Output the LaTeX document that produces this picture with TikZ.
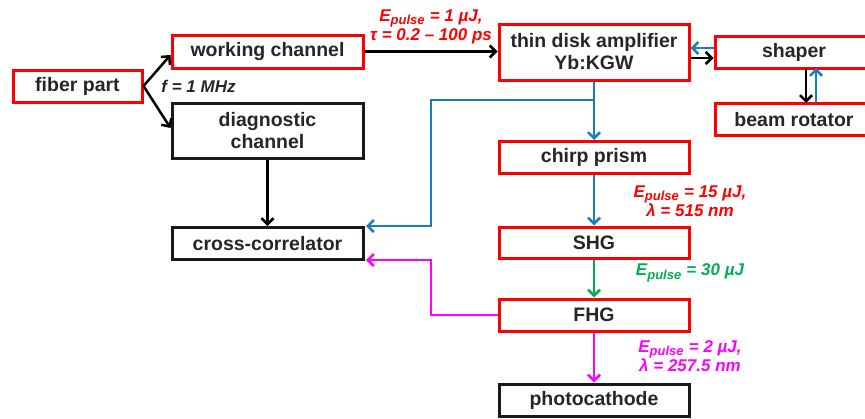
\documentclass[tikz,border=0pt]{standalone}
\usepackage{fontspec}
\setmainfont{Liberation Sans}
\usetikzlibrary{arrows.meta,calc}
\definecolor{cred}{RGB}{255,0,0}
\definecolor{cblue}{RGB}{25,125,190}
\definecolor{cgreen}{RGB}{0,176,80}
\definecolor{cmag}{RGB}{255,0,255}
\begin{document}
\begin{tikzpicture}[x=1pt,y=-1pt,
  box/.style={draw=cred, line width=3pt, inner sep=0pt, align=center,
    font=\fontsize{19.5}{22}\selectfont\bfseries, text=black!85},
  bbox/.style={box, draw=black!90},
  arr/.style={line width=2.5pt, -{Straight Barb[length=6pt,width=12pt,line width=2.5pt]}},
  lab/.style={align=center, font=\fontsize{17}{19.5}\selectfont\bfseries\itshape, inner sep=0pt},
]
\useasboundingbox (0,0) rectangle (865,418);
\newcommand{\Ep}{\textit{E}\textsubscript{\fontsize{13}{13}\selectfont pulse}}
% boxes
\node[box, minimum width=129pt, minimum height=32pt] (fiber) at (77.5,86) {fiber part};
\node[box, minimum width=191pt, minimum height=33pt] (work) at (267.5,51.5) {working channel};
\node[bbox, minimum width=191pt, minimum height=55pt] (diag) at (267.5,130.5) {diagnostic\\channel};
\node[bbox, minimum width=191pt, minimum height=32pt] (cc) at (267.5,243.5) {cross-correlator};
\node[box, minimum width=190pt, minimum height=56pt] (amp) at (594,52) {thin disk amplifier\\Yb:KGW};
\node[box, minimum width=158pt, minimum height=32pt] (shaper) at (794,52) {shaper};
\node[box, minimum width=158pt, minimum height=32pt] (rot) at (794,119.5) {beam rotator};
\node[box, minimum width=190pt, minimum height=32pt] (chirp) at (594,157.5) {chirp prism};
\node[box, minimum width=190pt, minimum height=31pt] (shg) at (594,242.5) {SHG};
\node[box, minimum width=190pt, minimum height=32pt] (fhg) at (594,315) {FHG};
\node[bbox, minimum width=190pt, minimum height=32pt] (photo) at (594,400) {photocathode};
% coordinates
\coordinate (br) at (594,100);
\coordinate (bl) at (431,100);
\coordinate (bd) at (431,226);
\coordinate (ccb) at (366,226);
\coordinate (ml) at (431,315);
\coordinate (mu) at (431,260);
\coordinate (ccm) at (366,260);
% connectors
\draw[arr] (fiber.east) -- ($(work.west)+(0,3.5)$);
\draw[arr] (fiber.east) -- ($(diag.west)+(0,-2.5)$);
\draw[arr] (work.east) -- (work.east -| amp.west);
\draw[arr] (diag.south) -- (diag.south |- cc.north);
\draw[arr] ($(amp.east)+(0,6)$) -- ($(amp.east -| shaper.west)+(0,6)$);
\draw[arr, cblue] ($(shaper.west)+(0,-4)$) -- ($(amp.east)+(0,-4)$);
\draw[arr] (806,68) -- (806,103);
\draw[arr, cblue] (816,103) -- (816,68);
\draw[arr, cblue] (amp.south) -- (chirp.north);
\draw[arr, cblue] (br) -- (bl) -- (bd) -- (ccb);
\draw[arr, cblue] (chirp.south) -- (shg.north);
\draw[arr, cgreen] (shg.south) -- (fhg.north);
\draw[arr, cmag] (fhg.south) -- (photo.north);
\draw[arr, cmag] (fhg.west) -- (ml) -- (mu) -- (ccm);
% labels
\node[lab, text=black!85] (flab) at (198.5,86) {f = 1 MHz};
\node[lab, text=cred] (l1) at (431,27) {\Ep\ = 1 µJ,\\τ = 0.2 – 100 ps};
\node[lab, text=cred] (l2) at (690,201) {\Ep\ = 15 µJ,\\λ = 515 nm};
\node[lab, text=cgreen] (l3) at (690,273) {\Ep\ = 30 µJ};
\node[lab, text=cmag] (l4) at (690,356) {\Ep\ = 2 µJ,\\λ = 257.5 nm};
\end{tikzpicture}
\end{document}
